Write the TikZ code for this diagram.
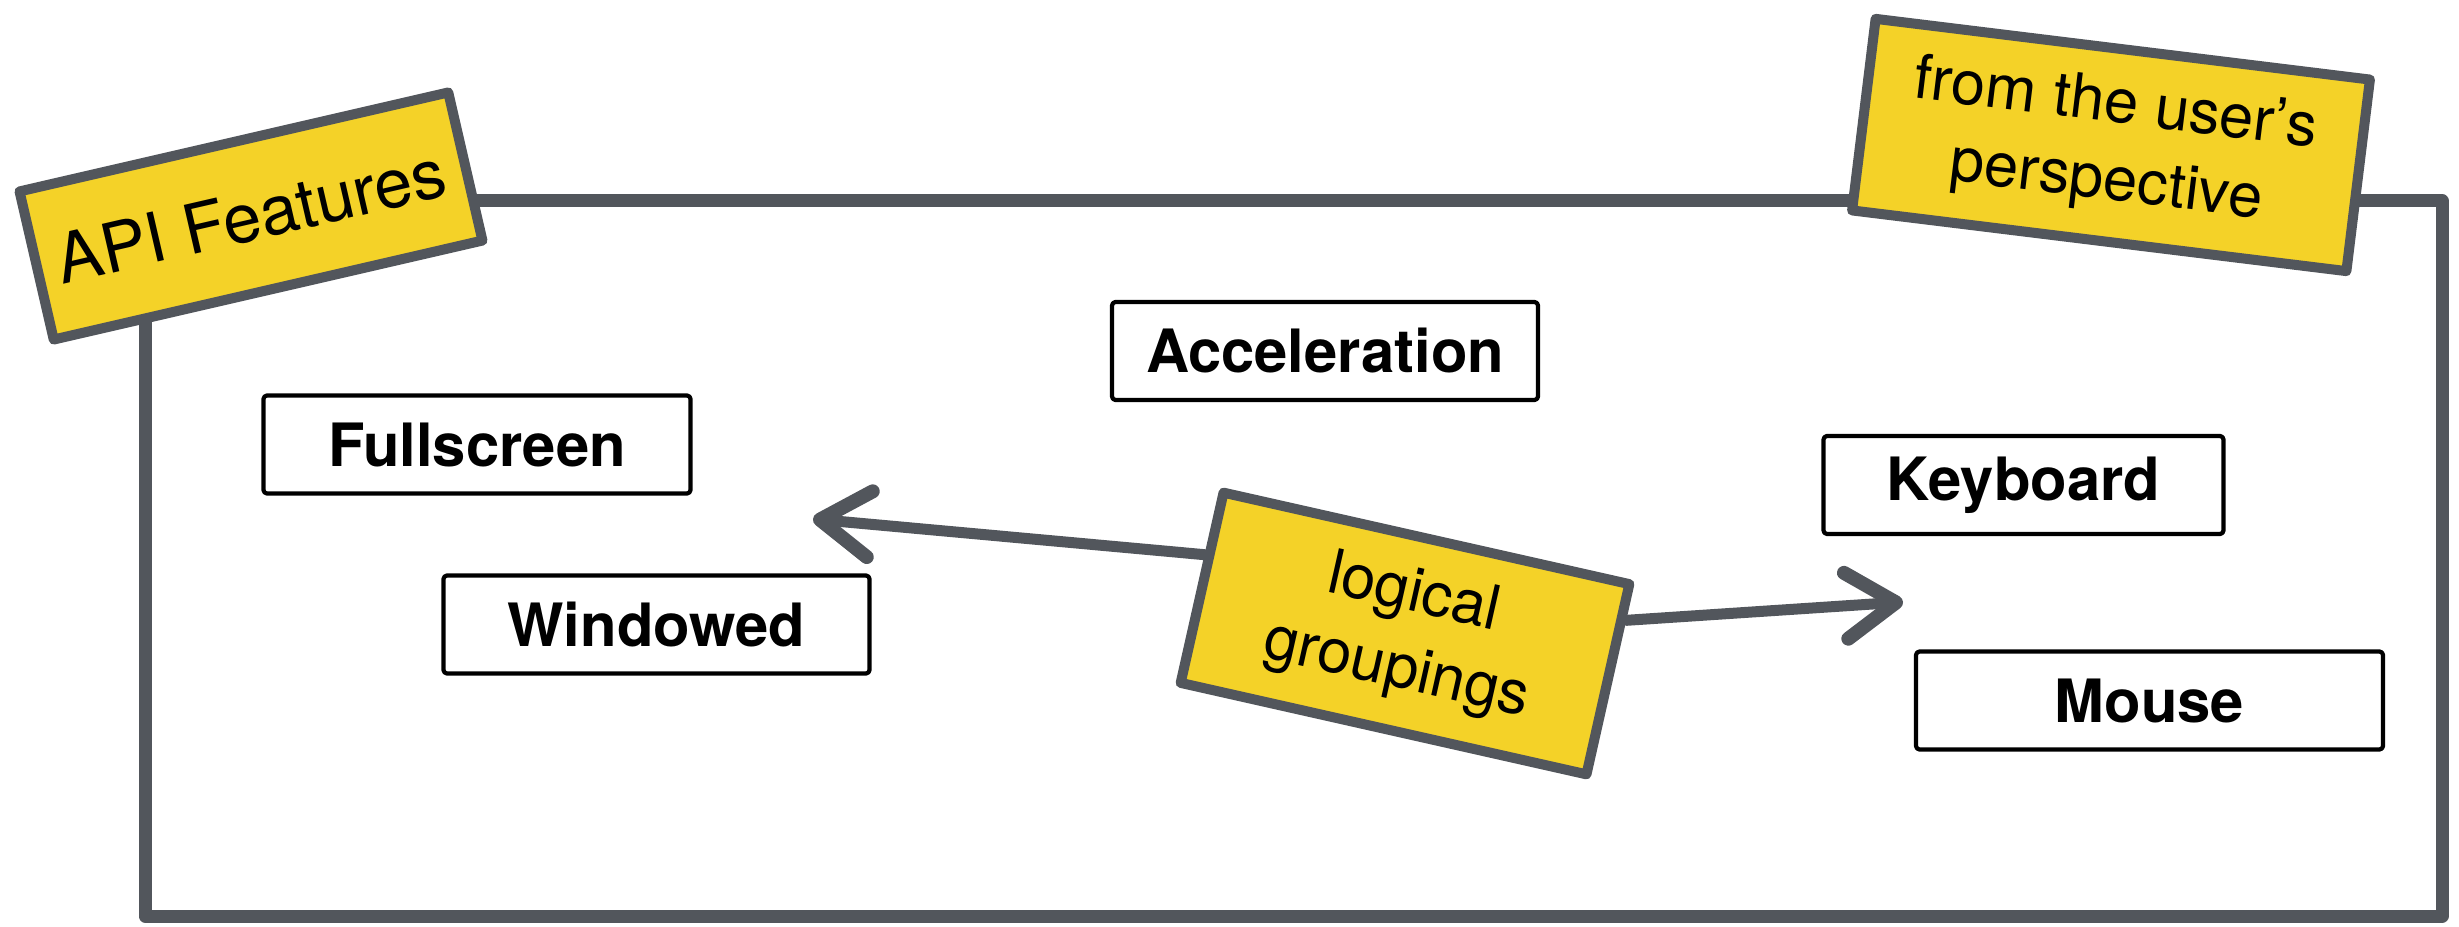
\documentclass[tikz,border=0pt]{standalone}
\usepackage{fontspec}
\setmainfont{TeX Gyre Heros}
\usetikzlibrary{arrows.meta,positioning,calc}
\definecolor{brush}{RGB}{82,86,92}
\definecolor{stickyyellow}{RGB}{244,210,40}

\begin{document}
\begin{tikzpicture}[>={Straight Barb[length=5mm,width=6.6mm,line width=1.4mm,round]},line join=round]
\tikzstyle{feature}=[draw=black,line width=1.2pt,rounded corners=1pt,minimum height=0.98cm,font=\fontsize{17}{20}\selectfont\bfseries]
\tikzstyle{sticky}=[draw=brush,fill=stickyyellow,line width=1mm,align=center,font=\fontsize{17.5}{22}\selectfont]
\tikzstyle{frame}=[draw=brush,line width=1.3mm]
\tikzstyle{grouparrow}=[->,draw=brush,line width=1.1mm,line cap=round]

\useasboundingbox (0,0) rectangle (24.59,-9.27);

\node[frame,minimum width=22.97cm,minimum height=7.15cm] at (12.935,-5.585) (apibox) {};

\node[feature,minimum width=4.26cm] at (13.25,-3.51) (accel) {Acceleration};
\node[feature,minimum width=4.27cm] at (4.77,-4.445) (fullscreen) {Fullscreen};
\node[feature,minimum width=4.26cm] (windowed) [below of=fullscreen,node distance=1.8cm,xshift=1.795cm] {Windowed};
\node[feature,minimum width=4.0cm] at (20.235,-4.85) (keyboard) {Keyboard};
\node[feature,minimum width=4.67cm] (mouse) [below of=keyboard,node distance=2.155cm,xshift=1.26cm] {Mouse};

\node[sticky,rotate=13,minimum width=4.4cm,minimum height=1.52cm,font=\fontsize{19.5}{23}\selectfont] at (2.51,-2.16) (apitag) {API Features};
\node[sticky,rotate=-7,minimum width=4.98cm,minimum height=1.93cm] at (21.11,-1.45) (usertag) {from the user’s\\perspective};
\node[sticky,rotate=-12.7,minimum width=4.16cm,minimum height=1.95cm] at (14.05,-6.335) (logic) {logical\\groupings};

\coordinate (wintip) at (8.13,-5.19);
\coordinate (keytip) at (19.03,-6.02);
\path ($(logic.north west)!0.34!(logic.south west)$) edge[grouparrow] (wintip);
\path ($(logic.north east)!0.2!(logic.south east)$) edge[grouparrow] (keytip);
\end{tikzpicture}
\end{document}
